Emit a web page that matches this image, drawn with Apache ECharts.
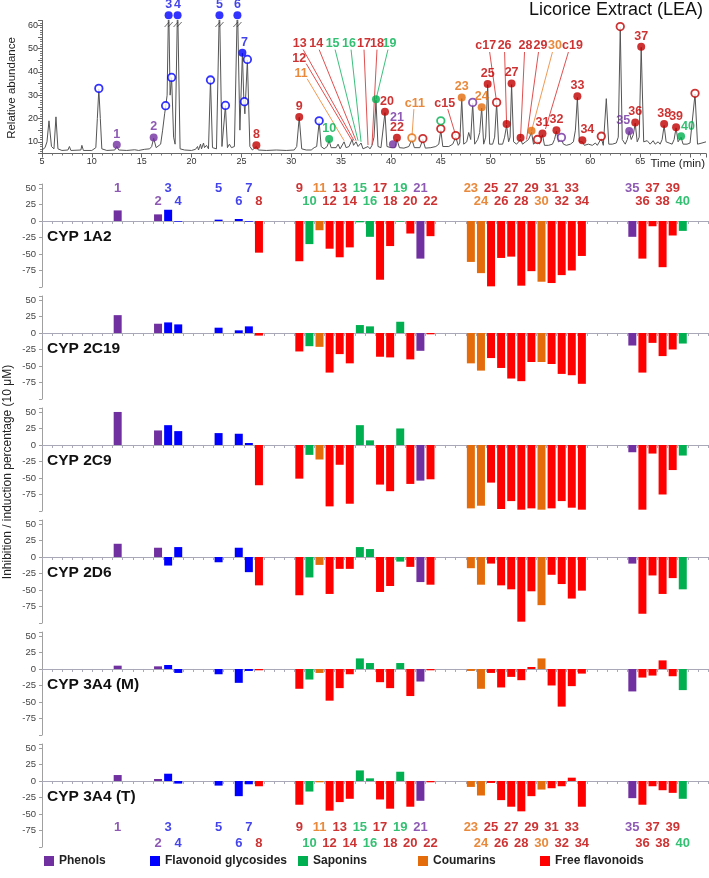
<!DOCTYPE html>
<html><head><meta charset="utf-8">
<script src="https://cdn.jsdelivr.net/npm/echarts@6/dist/echarts.min.js"></script>
<style>html,body{margin:0;padding:0;background:#fff}#c{width:709px;height:878px}</style>
</head><body><div id="c"></div>
<script>
// ---------- DATA ----------
const slotLabels = ['','','','','','','','1','','','','2','3','4','','','','5','','6','7','8','','','',
  '9','10','11','12','13','14','15','16','17','18','19','20','21','22','','','',
  '23','24','25','26','27','28','29','30','31','32','33','34','','','','',
  '35','36','37','38','39','40','',''];
const compounds = ['1','2','3','4','5','6','7','8','9','10','11','12','13','14','15','16','17','18','19','20',
  '21','22','23','24','25','26','27','28','29','30','31','32','33','34','35','36','37','38','39','40'];
const compoundClass = ['P','P','G','G','G','G','G','F','F','S','C','F','F','F','S','S','F','F','S','F',
  'P','F','C','C','F','F','F','F','F','C','F','F','F','F','P','F','F','F','F','S'];
const panelNames = ['CYP 1A2','CYP 2C19','CYP 2C9','CYP 2D6','CYP 3A4 (M)','CYP 3A4 (T)'];
const cyp1A2  = [16,10,17,-1,2,3,-1,-48,-61,-35,-14,-42,-55,-40,-2,-24,-89,-38,-1,-19,-57,-23,-62,-79,-99,-56,-54,-98,-76,-92,-94,-82,-75,-53,-24,-57,-8,-70,-22,-15];
const cyp2C19 = [27,14,16,13,8,4,10,-4,-28,-20,-21,-60,-32,-46,12,10,-36,-37,17,-40,-27,-2,-46,-57,-38,-53,-69,-73,-44,-44,-47,-62,-64,-77,-19,-60,-15,-35,-25,-16];
const cyp2C9  = [50,22,30,21,18,17,3,-61,-51,-15,-22,-93,-30,-89,30,7,-60,-70,25,-59,-54,-52,-96,-92,-57,-97,-85,-98,-96,-98,-96,-85,-95,-98,-11,-98,-13,-75,-38,-16];
const cyp2D6  = [20,14,-13,15,-8,14,-23,-43,-58,-31,-12,-56,-18,-18,15,12,-53,-44,-7,-15,-38,-42,-17,-42,-10,-43,-49,-98,-52,-73,-27,-41,-63,-51,-10,-86,-28,-56,-32,-49];
const cyp3A4M = [5,4,6,-6,-8,-21,-3,-2,-30,-16,-6,-48,-29,-8,16,9,-20,-29,9,-41,-19,-2,-3,-30,-6,-28,-12,-17,3,16,-25,-57,-26,-7,-34,-13,-10,13,-11,-32];
const cyp3A4T = [9,3,11,-4,-7,-23,-5,-8,-36,-16,-2,-45,-32,-27,16,4,-28,-42,14,-39,-30,-2,-9,-22,-3,-29,-39,-46,-23,-13,-11,-8,5,-39,-26,-36,-8,-14,-18,-27];
const panelValues = [cyp1A2, cyp2C19, cyp2C9, cyp2D6, cyp3A4M, cyp3A4T];
const classNames = {P:'Phenols',G:'Flavonoid glycosides',S:'Saponins',C:'Coumarins',F:'Free flavonoids'};
const classOrder = ['P','G','S','C','F'];

// chromatogram trace [time (min), relative abundance]
const chromTrace = [[5.0,6.5],[5.3,7.5],[5.5,10],[5.7,19],[5.95,8],[6.2,7],[6.4,20.7],[6.6,7],[7.0,6.3],[7.6,6.5],[7.75,8],[7.9,6.3],[8.9,6.5],[9.0,8.5],[9.15,6.3],[10.0,6.3],[10.4,7.5],[10.55,20],[10.7,32.5],[10.85,20],[11.0,7],[11.5,6.3],[12.3,6.5],[12.5,8],[12.7,6.5],[13.5,6.3],[14.3,6.6],[14.7,6.3],[15.3,6.8],[15.8,7],[16.0,8],[16.2,11.5],[16.45,7.5],[16.9,9],[17.1,15],[17.3,22],[17.4,25],[17.55,30],[17.7,70],[17.85,30],[18.0,37.5],[18.2,12],[18.35,9],[18.6,70],[18.85,7],[19.3,6.5],[20.0,6.3],[20.4,6.8],[20.6,8],[20.7,6.5],[20.9,9],[21.0,7],[21.2,9.5],[21.3,7.5],[21.5,8.5],[21.7,7],[21.9,36.5],[22.1,7.5],[22.3,7.5],[22.5,7],[22.8,70],[23.05,8],[23.2,8],[23.4,25.5],[23.6,7.5],[23.8,9],[24.0,7.5],[24.3,8],[24.6,70],[24.85,15],[25.1,48],[25.25,27],[25.35,22],[25.6,45],[25.85,8],[26.1,6.5],[26.5,8],[26.7,6.5],[27.5,6.3],[28.5,6.5],[29.5,6.3],[30.3,6.5],[30.55,8],[30.8,20.5],[31.05,7],[31.5,6.5],[32.0,6.5],[32.3,7.5],[32.55,8],[32.8,18.5],[33.0,8],[33.3,7],[33.6,8],[33.8,10.5],[34.0,7.5],[34.5,7.5],[34.7,9],[34.9,7],[35.3,10],[35.5,7.5],[35.8,8],[36.1,11],[36.25,8.5],[36.5,10],[36.7,8],[37.0,9.5],[37.2,7],[37.7,8],[37.9,7],[38.1,8.5],[38.3,12],[38.5,27.8],[38.7,8],[39.0,7.5],[39.4,22.5],[39.6,8],[40.0,7.5],[40.2,8],[40.4,7.5],[40.6,11],[40.85,7.5],[41.3,7.3],[41.8,8],[42.1,11],[42.35,7.5],[42.9,7.5],[43.2,11],[43.45,7.3],[44.0,7.5],[44.5,8],[44.8,9],[45.0,15],[45.2,8],[45.8,8],[46.2,9],[46.5,12],[46.75,8.5],[46.9,9.5],[47.1,28.5],[47.3,9],[47.6,10],[47.8,14],[48.0,11],[48.2,26.5],[48.4,9],[48.7,11],[48.9,14],[49.1,24.5],[49.3,9],[49.5,12],[49.7,34.5],[49.9,9],[50.2,9],[50.4,12],[50.6,26.5],[50.8,9],[51.2,9],[51.4,12],[51.6,17],[51.8,10],[51.95,12],[52.1,34.5],[52.3,10],[52.6,9],[52.8,10],[53.0,11],[53.2,9],[53.5,10],[53.8,11],[54.1,14],[54.3,9],[54.5,8.5],[54.7,10.5],[54.9,9],[55.2,13],[55.4,8.5],[55.8,8.5],[56.2,9],[56.4,11],[56.6,14.5],[56.8,10],[57.1,11],[57.3,9],[57.6,8.5],[58.0,9],[58.3,10],[58.5,15],[58.7,29],[58.9,10],[59.2,10],[59.4,8.5],[59.8,9],[60.2,8.5],[60.5,9.5],[60.7,8.5],[61.1,11.5],[61.3,8.5],[61.6,28.5],[61.85,9],[62.2,9],[62.6,9.5],[62.8,12],[63.0,59],[63.2,11],[63.5,9],[63.7,11],[63.9,14.5],[64.1,11],[64.3,13],[64.5,18],[64.7,10],[64.9,12],[65.1,50.5],[65.35,10],[65.7,10.5],[66.0,9],[66.3,10.5],[66.5,9],[66.8,10],[67.0,9],[67.2,11],[67.4,17],[67.6,10],[67.9,9.5],[68.2,9],[68.4,11],[68.6,16],[68.8,10],[69.1,12],[69.3,9],[69.7,9],[70.0,9.5],[70.2,9],[70.5,30.5],[70.75,9],[71.2,9.5],[71.6,10]];
// truncated (off-scale) peaks
const brokenPeaks = [17.7, 18.6, 22.8, 24.6];
// identified peaks: [time, abundance, compound, class, labelled directly]
const peakMarks = [[12.5,8.8,'1','P',1],[16.2,11.9,'2','P',1],[17.7,64.2,'3','G',1],[18.6,64.2,'4','G',1],[22.8,64.2,'5','G',1],[24.6,64.2,'6','G',1],[25.1,48.2,'7','G',1],[26.5,8.5,'8','F',1],[30.8,20.6,'9','F',1],[33.8,11.2,'10','S',1],[38.5,28.2,'19','S',0],[39.4,22.9,'20','F',1],[40.2,9.0,'21','P',1],[40.6,11.7,'22','F',1],[47.1,29.0,'23','C',1],[49.1,24.8,'24','C',1],[49.7,34.8,'25','F',1],[51.6,17.6,'26','F',0],[52.1,35.0,'27','F',1],[53.0,11.7,'28','F',0],[54.1,14.7,'30','C',0],[55.2,13.6,'31','F',1],[56.6,15.0,'32','F',1],[58.7,29.5,'33','F',1],[59.2,10.7,'34','F',1],[63.9,14.6,'35','P',1],[64.5,18.3,'36','F',1],[65.1,50.8,'37','F',1],[67.4,17.6,'38','F',1],[68.6,16.2,'39','F',1],[69.1,12.4,'40','S',1]];
// open (non-tested) peak markers: [time, abundance, class]
const openMarks = [[10.7,32.9,'G'],[17.4,25.5,'G'],[18.0,37.6,'G'],[21.9,36.5,'G'],[23.4,25.6,'G'],[25.3,27.2,'G'],[25.6,45.3,'G'],[32.8,19.0,'G'],[42.1,11.7,'C'],[43.2,11.4,'F'],[45.0,15.6,'F'],[45.0,19.0,'S'],[46.5,12.7,'F'],[48.2,26.9,'P'],[50.6,26.9,'F'],[54.7,11.0,'F'],[57.1,11.9,'P'],[61.1,12.4,'F'],[63.0,59.4,'F'],[70.5,30.8,'F']];
// callout labels: [text, class, label time, label abundance, line from (t,v), line to (t,v)]
const callouts = [['13','F',30.85,52,31.2,49.5,36.3,10.5],['14','F',32.5,52,32.8,49.5,36.5,10.5],['15','S',34.15,52,34.4,49.5,36.7,10.5],['16','S',35.8,52,36.0,49.5,37.0,10],['17','F',37.3,52,37.3,49.5,37.7,8.6],['18','F',38.6,52,38.6,49.5,38.1,8.6],['19','S',39.85,52,39.7,49.5,38.5,28.2],['12','F',30.8,45.9,31.5,43.5,36.1,10.5],['11','C',31.0,39.3,31.6,37,35.3,10.5],['c11','C',42.4,26.6,42.3,24,42.1,11.7],['c15','F',45.4,26.6,45.7,24,46.5,12.7],['c17','F',49.5,51.2,49.9,48.5,50.6,26.9],['26','F',51.4,51.2,51.4,48.5,51.6,17.6],['28','F',53.5,51.2,53.4,48.5,53.0,11.7],['29','F',55.0,51.2,54.8,48.5,53.6,11],['30','C',56.45,51.2,56.2,48.5,54.1,14.7],['c19','F',58.2,51.2,57.8,48.5,55.5,15.5]];

// ---------- STYLE ----------
const barColor = {P:'#7030A0',G:'#0000FF',S:'#00B050',C:'#E46C0A',F:'#FF0000'};
const textColor = {P:'#7030A0',G:'#1414E6',S:'#00B050',C:'#E46C0A',F:'#C00000'};
const markColor = {P:'#7030A0',G:'#0000FF',S:'#00B050',C:'#E46C0A',F:'#C00000'};
const leadColor = {P:'#a070c0',G:'#6060ff',S:'#3cc07c',C:'#f09a55',F:'#e05050'};
const FONT = 'Liberation Sans, Arial, sans-serif';
const labelTweak = {'7':{offset:[2,0]},'20':{offset:[2,0]},'21':{offset:[4,0],distance:16},'34':{offset:[5,0]},'35':{offset:[-6,0]},'40':{offset:[7,1]}};

const panelTop0 = 184, panelStep = 112, panelH = 103, yMax = 56, yMin = -100;
const zeroY = p => panelTop0 + panelStep*p + panelH*yMax/(yMax-yMin);

const grids = [{left:42, width:666, top:20.5, height:133}];
const xAxes = [{gridIndex:0, type:'value', min:5, max:71.6, interval:5,
  axisLine:{lineStyle:{color:'#666'}}, axisTick:{length:4, lineStyle:{color:'#666'}},
  minorTick:{show:true, splitNumber:5, length:2, lineStyle:{color:'#777'}},
  splitLine:{show:false},
  axisLabel:{fontSize:9, color:'#333', margin:4, fontFamily:FONT, formatter:v => v<=65 ? v : ''}}];
const yAxes = [{gridIndex:0, type:'value', min:5, max:62, interval:5,
  axisLine:{show:true, lineStyle:{color:'#666'}}, axisTick:{show:true, length:4, lineStyle:{color:'#666'}},
  minorTick:{show:true, splitNumber:5, length:2, lineStyle:{color:'#777'}},
  splitLine:{show:false},
  axisLabel:{fontSize:9, color:'#333', margin:4, fontFamily:FONT, formatter:v => (v%10===0 && v<=60) ? v : ''}}];

const series = [];
series.push({type:'line', xAxisIndex:0, yAxisIndex:0, data:chromTrace, showSymbol:false, symbol:'none',
  lineStyle:{color:'#555', width:1}, clip:true, silent:true, z:2});
series.push({type:'scatter', xAxisIndex:0, yAxisIndex:0, data:brokenPeaks.map(t=>[t,60.3]),
  symbol:'path://M0,10 L5,0 L6,0 L1,10 Z M4,10 L9,0 L10,0 L5,10 Z', symbolSize:[9,5],
  itemStyle:{color:'#333'}, z:4, silent:true});
series.push({type:'lines', coordinateSystem:'cartesian2d', xAxisIndex:0, yAxisIndex:0, z:3, silent:true,
  data:callouts.map(c=>({coords:[[c[4],c[5]],[c[6],c[7]]], lineStyle:{color:leadColor[c[1]], width:1, opacity:1}}))});
series.push({type:'scatter', xAxisIndex:0, yAxisIndex:0, z:6, silent:true, clip:false, symbolSize:1,
  itemStyle:{color:'transparent'},
  data:callouts.map(c=>({value:[c[2],c[3]], label:{show:true, position:'inside', formatter:c[0], color:textColor[c[1]], fontSize:12.5, fontWeight:'bold', fontFamily:FONT}}))});
series.push({type:'scatter', xAxisIndex:0, yAxisIndex:0, z:5, silent:true, clip:false, symbolSize:7.5,
  data:openMarks.map(m=>({value:[m[0],m[1]], itemStyle:{color:'#fff', borderColor:markColor[m[2]], borderWidth:1.8}}))});
series.push({type:'scatter', xAxisIndex:0, yAxisIndex:0, z:5, silent:true, clip:false, symbolSize:8,
  data:peakMarks.map(m=>{
    const tw = labelTweak[m[2]] || {};
    return {value:[m[0],m[1]], itemStyle:{color:markColor[m[3]]},
      label:{show:!!m[4], position:'top', distance: tw.distance!=null ? tw.distance : 0, offset: tw.offset || [0,0],
        formatter:m[2], color:textColor[m[3]], fontSize:12.5, fontWeight:'bold', fontFamily:FONT}};
  })});

const axisCats = slotLabels.map((s,i)=> s === '' ? ('_'+i) : s);
const classOf = lbl => compoundClass[compounds.indexOf(lbl)];

panelValues.forEach((vals,p)=>{
  const gi = p+1;
  grids.push({left:42, width:666, top:panelTop0+panelStep*p, height:panelH});
  xAxes.push({gridIndex:gi, type:'category', data:axisCats, boundaryGap:true,
    axisLine:{onZero:true, lineStyle:{color:'#a8a8b8'}},
    axisTick:{show:true, interval:0, length:3, lineStyle:{color:'#a8a8b8'}},
    axisLabel:{show:false}, splitLine:{show:false}});
  yAxes.push({gridIndex:gi, type:'value', min:yMin, max:yMax, interval:25,
    axisLine:{show:true, lineStyle:{color:'#a0a0a0'}}, axisTick:{show:true, length:3, lineStyle:{color:'#a0a0a0'}},
    splitLine:{show:false},
    axisLabel:{fontSize:9.5, color:'#444', margin:6, fontFamily:FONT, formatter:v => (v<=50 && v>-100) ? v : ''}});
  classOrder.forEach(k=>{
    series.push({type:'bar', name:classNames[k], xAxisIndex:gi, yAxisIndex:gi, stack:'p'+p, barWidth:8,
      itemStyle:{color:barColor[k]}, silent:true,
      data:slotLabels.map(lbl => (lbl!=='' && classOf(lbl)===k) ? vals[compounds.indexOf(lbl)] : '-')});
  });
});

// compound number rows on top panel and bottom panel
function numberRow(gi, oddVal, evenVal){
  return {type:'scatter', xAxisIndex:gi, yAxisIndex:gi, z:6, silent:true, clip:false, symbolSize:1,
    itemStyle:{color:'transparent'},
    data:compounds.map((c,i)=>({value:[slotLabels.indexOf(c), (i%2===0)?oddVal:evenVal],
      label:{show:true, position:'inside', formatter:c, color:textColor[compoundClass[i]], fontSize:13, fontWeight:'bold', fontFamily:FONT}}))};
}
series.push(numberRow(1, 50, 30));
series.push(numberRow(6, -71, -95));

const graphics = [
  {type:'text', right:6, top:1, style:{text:'Licorice Extract (LEA)', font:'18px '+FONT, fill:'#111'}},
  {type:'text', x:12, y:88, rotation:Math.PI/2, style:{text:'Relative abundance', font:'11.5px '+FONT, fill:'#222', align:'center', verticalAlign:'middle'}},
  {type:'text', right:4, top:158, style:{text:'Time (min)', font:'11.5px '+FONT, fill:'#222'}},
  {type:'text', x:8, y:472, rotation:Math.PI/2, style:{text:'Inhibition / induction percentage (10 μM)', font:'12px '+FONT, fill:'#222', align:'center', verticalAlign:'middle'}}
];
panelNames.forEach((n,p)=>{
  graphics.push({type:'text', x:47, y:zeroY(p)+16, style:{text:n, font:'bold 15.5px '+FONT, fill:'#111', verticalAlign:'middle'}});
});

const legendLeft = [44,150,298,418,540];
const legends = classOrder.map((k,i)=>({data:[classNames[k]], left:legendLeft[i], top:855, padding:0,
  itemWidth:10, itemHeight:10, icon:'rect', itemGap:6, selectedMode:false,
  textStyle:{fontSize:12, fontWeight:'bold', color:'#222', fontFamily:FONT}}));

const chart = echarts.init(document.getElementById('c'), null, {renderer:'canvas'});
chart.setOption({animation:false, backgroundColor:'#fff', grid:grids, xAxis:xAxes, yAxis:yAxes,
  series:series, graphic:graphics, legend:legends});
</script></body></html>
